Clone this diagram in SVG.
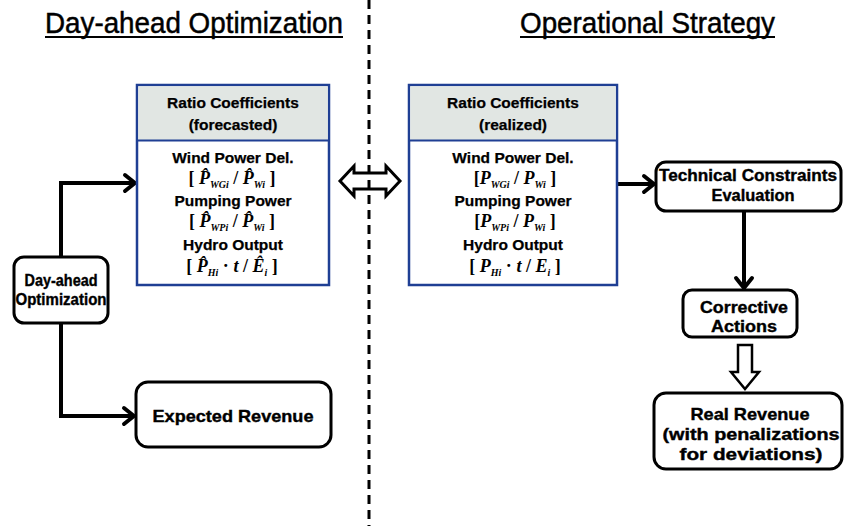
<svg xmlns="http://www.w3.org/2000/svg" width="845" height="526" viewBox="0 0 845 526">
<style>
.title{font-family:"Liberation Sans",Arial,sans-serif;font-size:30px;fill:#000;stroke:#000;stroke-width:0.5}
.hd{font-family:"Liberation Sans",Arial,sans-serif;font-weight:bold;font-size:15.5px;fill:#000;text-anchor:middle;stroke:#000;stroke-width:0.25}
.fm{font-family:"Liberation Serif","Times New Roman",serif;font-weight:bold;font-size:18px;fill:#000;text-anchor:middle}
.v{font-style:italic}
.s{font-style:italic;font-size:10px}
.nd{font-family:"Liberation Sans",Arial,sans-serif;font-weight:bold;font-size:17px;fill:#000;text-anchor:middle;stroke:#000;stroke-width:0.4}
.box{fill:#fff;stroke:#000;stroke-width:3}
.blue{fill:#fff;stroke:#1f3f94;stroke-width:2.5}
.conn{fill:none;stroke:#000;stroke-width:4}
</style>
<defs>
<marker id="ah" markerUnits="userSpaceOnUse" markerWidth="20" markerHeight="24" viewBox="0 0 20 24" refX="16" refY="12" orient="auto">
<path d="M6,4 L16,12 L6,20" fill="none" stroke="#000" stroke-width="4" stroke-linecap="round" stroke-linejoin="round"/>
</marker>
</defs>
<rect width="845" height="526" fill="#fff"/>

<g id="titles">
<text class="title" x="45" y="33" textLength="298" lengthAdjust="spacingAndGlyphs">Day-ahead Optimization</text>
<line x1="45" y1="37" x2="343" y2="37" stroke="#000" stroke-width="2"/>
<text class="title" x="520" y="33" textLength="255" lengthAdjust="spacingAndGlyphs">Operational Strategy</text>
<line x1="520" y1="37" x2="775" y2="37" stroke="#000" stroke-width="2"/>
</g>

<g id="connectors">
<path class="conn" d="M61,257 V183 H135" marker-end="url(#ah)"/>
<path class="conn" d="M61,323 V416 H134" marker-end="url(#ah)"/>
<path class="conn" d="M617,184 H654" marker-end="url(#ah)"/>
<path class="conn" d="M744,212 V288" marker-end="url(#ah)"/>
<polygon points="738,345 752,345 752,372 759,372 745,389 731,372 738,372" fill="#fff" stroke="#000" stroke-width="2.5" stroke-linejoin="miter"/>
<polygon points="340,181 354,166 354,173 386,173 386,166 400,181 386,196 386,189 354,189 354,196" fill="#fff" stroke="#000" stroke-width="3" stroke-linejoin="miter"/>
</g>

<g id="divider">
<line x1="369" y1="0" x2="369" y2="526" stroke="#000" stroke-width="3" stroke-dasharray="9 6"/>
</g>

<g id="forecasted">
<rect class="blue" x="137" y="85" width="192" height="200"/>
<rect x="138.25" y="86.25" width="189.5" height="54" fill="#e1e6e3"/>
<line x1="137" y1="140.5" x2="329" y2="140.5" stroke="#1f3f94" stroke-width="2"/>
<text class="hd" x="233" y="108">Ratio Coefficients</text>
<text class="hd" x="233" y="130">(forecasted)</text>
<text class="hd" x="233" y="163">Wind Power Del.</text>
<text class="fm" x="232" y="184">[ <tspan class="v">P̂</tspan><tspan class="s" dy="4">WGi</tspan><tspan dy="-4"> / </tspan><tspan class="v">P̂</tspan><tspan class="s" dy="4">Wi</tspan><tspan dy="-4"> ]</tspan></text>
<text class="hd" x="233" y="206">Pumping Power</text>
<text class="fm" x="232" y="227">[ <tspan class="v">P̂</tspan><tspan class="s" dy="4">WPi</tspan><tspan dy="-4"> / </tspan><tspan class="v">P̂</tspan><tspan class="s" dy="4">Wi</tspan><tspan dy="-4"> ]</tspan></text>
<text class="hd" x="233" y="250">Hydro Output</text>
<text class="fm" x="232" y="272">[ <tspan class="v">P̂</tspan><tspan class="s" dy="4">Hi</tspan><tspan dy="-4"> · </tspan><tspan class="v">t</tspan><tspan> / </tspan><tspan class="v">Ê</tspan><tspan class="s" dy="4">i</tspan><tspan dy="-4"> ]</tspan></text>
</g>

<g id="realized">
<rect class="blue" x="409" y="85" width="208" height="200"/>
<rect x="410.25" y="86.25" width="205.5" height="54" fill="#e1e6e3"/>
<line x1="409" y1="140.5" x2="617" y2="140.5" stroke="#1f3f94" stroke-width="2"/>
<text class="hd" x="513" y="108">Ratio Coefficients</text>
<text class="hd" x="513" y="130">(realized)</text>
<text class="hd" x="513" y="163">Wind Power Del.</text>
<text class="fm" x="515" y="184">[<tspan class="v">P</tspan><tspan class="s" dy="4">WGi</tspan><tspan dy="-4"> / </tspan><tspan class="v">P</tspan><tspan class="s" dy="4">Wi</tspan><tspan dy="-4">  ]</tspan></text>
<text class="hd" x="513" y="206">Pumping Power</text>
<text class="fm" x="515" y="227">[<tspan class="v">P</tspan><tspan class="s" dy="4">WPi</tspan><tspan dy="-4"> / </tspan><tspan class="v">P</tspan><tspan class="s" dy="4">Wi</tspan><tspan dy="-4">  ]</tspan></text>
<text class="hd" x="513" y="250">Hydro Output</text>
<text class="fm" x="515" y="272">[ <tspan class="v">P</tspan><tspan class="s" dy="4">Hi</tspan><tspan dy="-4"> · </tspan><tspan class="v">t</tspan><tspan> / </tspan><tspan class="v">E</tspan><tspan class="s" dy="4">i</tspan><tspan dy="-4"> ]</tspan></text>
</g>

<g id="dayahead">
<rect class="box" x="14" y="257" width="94" height="66" rx="10"/>
<text class="nd" x="61" y="286" font-size="15" textLength="73" lengthAdjust="spacingAndGlyphs">Day-ahead</text>
<text class="nd" x="61" y="305" font-size="15" textLength="91" lengthAdjust="spacingAndGlyphs">Optimization</text>
</g>

<g id="expected">
<rect class="box" x="136" y="382" width="195" height="65" rx="12"/>
<text class="nd" x="233" y="422" font-size="20" textLength="161" lengthAdjust="spacingAndGlyphs">Expected Revenue</text>
</g>

<g id="technical">
<rect class="box" x="656" y="162" width="185" height="49" rx="10"/>
<text class="nd" x="748" y="181" textLength="178" lengthAdjust="spacingAndGlyphs">Technical Constraints</text>
<text class="nd" x="753" y="201" textLength="83" lengthAdjust="spacingAndGlyphs">Evaluation</text>
</g>

<g id="corrective">
<rect class="box" x="683" y="290" width="114" height="47" rx="9"/>
<text class="nd" x="744" y="313" textLength="88" lengthAdjust="spacingAndGlyphs">Corrective</text>
<text class="nd" x="744" y="332" textLength="66" lengthAdjust="spacingAndGlyphs">Actions</text>
</g>

<g id="real">
<rect class="box" x="654" y="393" width="188" height="76" rx="12"/>
<text class="nd" x="750" y="420" textLength="119" lengthAdjust="spacingAndGlyphs">Real Revenue</text>
<text class="nd" x="751" y="440" textLength="177" lengthAdjust="spacingAndGlyphs">(with penalizations</text>
<text class="nd" x="751" y="460" textLength="143" lengthAdjust="spacingAndGlyphs">for deviations)</text>
</g>
</svg>
